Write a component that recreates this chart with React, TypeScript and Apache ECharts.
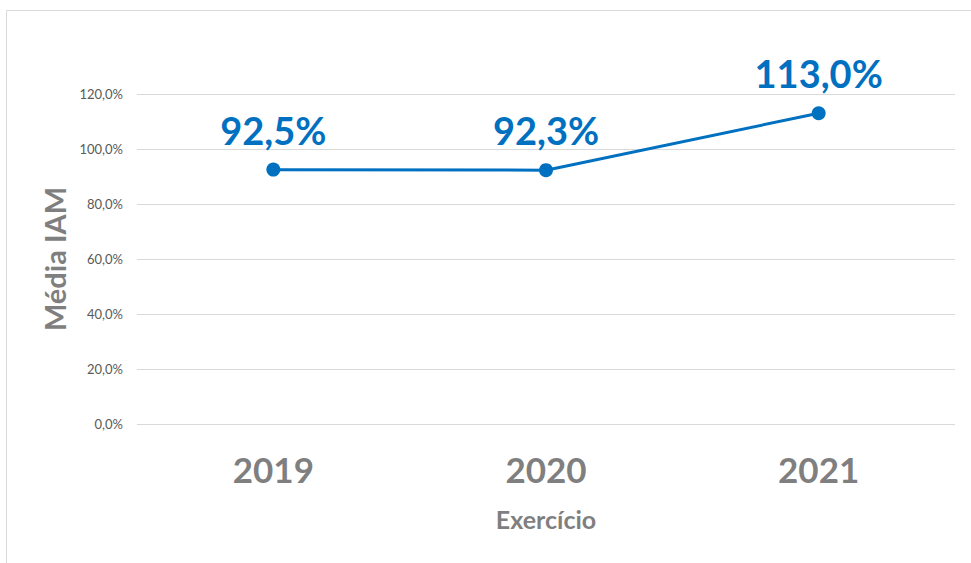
import React, { useEffect, useRef } from "react";
import * as echarts from "echarts";

const categories = ["2019", "2020", "2021"];
const values = [92.5, 92.3, 113.0];
const yTicks = [0, 20, 40, 60, 80, 100, 120];

const FONT = "Lato, 'Open Sans', sans-serif";
const BLUE = "#0070C0";

const fmt = (v: number) => v.toFixed(1).replace(".", ",") + "%";

export default function App() {
  const ref = useRef<HTMLDivElement>(null);
  useEffect(() => {
    if (!ref.current) return;
    const chart = echarts.init(ref.current, undefined, { renderer: "svg" });
    chart.setOption({
      animation: false,
      backgroundColor: "#ffffff",
      graphic: [
        {
          type: "rect",
          shape: { x: 6.5, y: 10.5, width: 1000, height: 600 },
          style: { fill: "none", stroke: "#d9d9d9", lineWidth: 1 },
          silent: true,
        },
      ],
      grid: { left: 137, right: 16, top: 94, bottom: 139 },
      xAxis: {
        type: "category",
        data: categories,
        boundaryGap: true,
        axisLine: { show: false },
        axisTick: { show: false },
        axisLabel: {
          fontFamily: FONT,
          fontWeight: "bold",
          fontSize: 35,
          color: "#7f7f7f",
          margin: 27,
        },
        name: "Exercício",
        nameLocation: "middle",
        nameGap: 82,
        nameTextStyle: {
          fontFamily: FONT,
          fontWeight: "bold",
          fontSize: 25,
          color: "#7f7f7f",
        },
      },
      yAxis: {
        type: "value",
        min: yTicks[0],
        max: yTicks[yTicks.length - 1],
        interval: 20,
        axisLine: { show: false },
        axisTick: { show: false },
        splitLine: { lineStyle: { color: "#d9d9d9", width: 1 } },
        axisLabel: {
          fontFamily: FONT,
          fontSize: 13,
          color: "#595959",
          margin: 14,
          formatter: (v: number) => fmt(v),
        },
        name: "Média IAM",
        nameLocation: "middle",
        nameGap: 64,
        nameTextStyle: {
          fontFamily: FONT,
          fontWeight: "bold",
          fontSize: 29,
          color: "#7f7f7f",
        },
      },
      series: [
        {
          type: "line",
          data: values,
          symbol: "circle",
          symbolSize: 14,
          lineStyle: { color: BLUE, width: 3 },
          itemStyle: { color: BLUE },
          label: {
            show: true,
            position: "top",
            distance: 14,
            fontFamily: FONT,
            fontWeight: "bold",
            fontSize: 38,
            color: BLUE,
            formatter: (p: any) => fmt(p.value),
          },
        },
      ],
    });
    return () => chart.dispose();
  }, []);
  return (
    <div
      ref={ref}
      style={{ position: "fixed", left: 0, top: 0, width: 971, height: 563 }}
    />
  );
}
